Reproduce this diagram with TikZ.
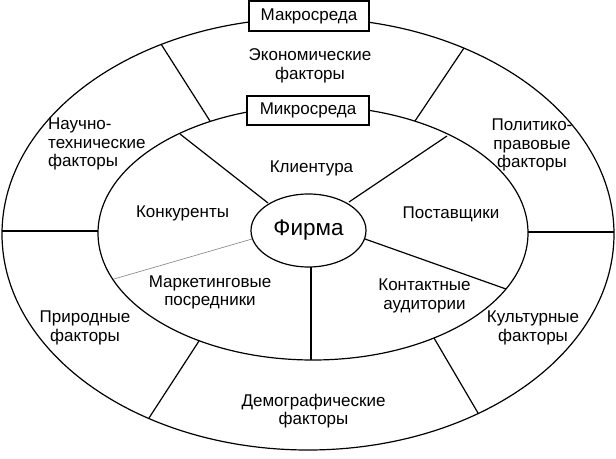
\documentclass[tikz,border=0pt]{standalone}
\usepackage{fontspec}
\setmainfont{Liberation Sans}
\usetikzlibrary{shapes.geometric}
\begin{document}
\begin{tikzpicture}[x=1pt,y=-1pt,
  lbl/.style={inner sep=0pt, align=center, font=\fontsize{17}{18.7}\selectfont},
  ring/.style={draw, line width=1.2pt, ellipse, inner sep=0pt},
  spoke/.style={draw, line width=1.2pt},
  thinspoke/.style={draw=gray, line width=0.6pt},
  envbox/.style={draw, fill=white, line width=1.2pt, minimum width=120pt, minimum height=30pt, inner sep=0pt, font=\fontsize{17}{18.7}\selectfont}]
\useasboundingbox (0,0) rectangle (616,458);
% rings
\node[ring, minimum width=612pt, minimum height=432pt] (outer) at (308,234) {};
\node[ring, minimum width=430pt, minimum height=254pt] (inner) at (313,233) {};
% spoke end points
\coordinate (fa1) at (268,203); \coordinate (ia1) at (180,134);
\coordinate (fa2) at (349,202); \coordinate (ia2) at (447,136);
\coordinate (fa3) at (252,239); \coordinate (ia3) at (114,279);
\coordinate (fa4) at (311,267); \coordinate (ia4) at (311,360);
\coordinate (fa5) at (365,239); \coordinate (ia5) at (506,289);
\coordinate (ib1) at (98,231);  \coordinate (ob1) at (2,231);
\coordinate (ib2) at (528,232); \coordinate (ob2) at (614,232);
\coordinate (ib3) at (210,121); \coordinate (ob3) at (161,44);
\coordinate (ib4) at (415,121); \coordinate (ob4) at (464,48);
\coordinate (ib5) at (199,341); \coordinate (ob5) at (149,418);
\coordinate (ib6) at (434,338); \coordinate (ob6) at (478,413);
% spokes
\draw[spoke] (fa1) -- (ia1);
\draw[spoke] (fa2) -- (ia2);
\draw[thinspoke] (fa3) -- (ia3);
\draw[spoke] (fa4) -- (ia4);
\draw[spoke] (fa5) -- (ia5);
\draw[spoke] (ib1) -- (ob1);
\draw[spoke] (ib2) -- (ob2);
\draw[spoke] (ib3) -- (ob3);
\draw[spoke] (ib4) -- (ob4);
\draw[spoke] (ib5) -- (ob5);
\draw[spoke] (ib6) -- (ob6);
% boxes
\node[envbox] (macro) at (309,16) {Макросреда};
\node[envbox, minimum width=122pt, minimum height=29pt] (micro) at (308,110.5) {Микросреда};
% firm
\node[ring, fill=white, minimum width=115pt, minimum height=73pt, font=\fontsize{22.5}{25}\selectfont] (firm) at (308.5,230.5) {Фирма};
% labels
\node[lbl] (econ) at (310,66) {Экономические\\факторы};
\node[lbl, align=left, anchor=west] (sci) at (48,144) {Научно-\\технические\\факторы};
\node[lbl] (pol) at (532,145) {Политико-\\правовые\\факторы};
\node[lbl] (cli) at (311.5,168) {Клиентура};
\node[lbl] (comp) at (182.5,213) {Конкуренты};
\node[lbl] (sup) at (451,214) {Поставщики};
\node[lbl] (mark) at (210,292.5) {Маркетинговые\\посредники};
\node[lbl] (cont) at (424.5,296) {Контактные\\аудитории};
\node[lbl] (nat) at (85,328) {Природные\\факторы};
\node[lbl] (cult) at (533,328) {Культурные\\факторы};
\node[lbl] (demo) at (313.5,411) {Демографические\\факторы};
\end{tikzpicture}
\end{document}
